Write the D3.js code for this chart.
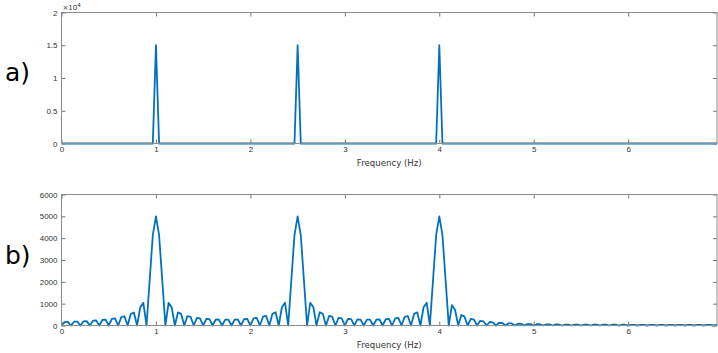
<!DOCTYPE html>
<html>
<head>
<meta charset="utf-8">
<script src="https://cdn.jsdelivr.net/npm/d3@7"></script>
<style>
  body { margin: 0; background: #fff; }
  svg { display: block; font-family: "DejaVu Sans", sans-serif; }
  .tick text { fill: #333; font-size: 8px; }
  .tick line { stroke: #777; }
</style>
</head>
<body>
<svg id="chart" width="718" height="353"></svg>
<script>
// frequency grid step (Hz), both spectra share it
const binStep = 1 / 30;

// a) spectrum: only three non-zero bins
const topPeakBins = [30, 75, 120];
const topPeakValues = [15000, 15000, 15000];
const topBinCount = 210;

// b) spectrum magnitudes, one per bin (read off the plot)
const bottomValues = [
  0, 157, 162, 0, 173, 179, 0, 193, 201, 0, 220, 230, 0, 255, 270, 0, 306, 328, 0, 385, 422,
  0, 524, 597, 0, 832, 1038, 0, 2069, 4135, 5000, 4135, 2070, 0, 1040, 835, 0, 603, 531, 0,
  433, 398, 0, 347, 329, 0, 300, 290, 0, 276, 271, 0, 267, 267, 0, 272, 277, 0, 292, 303,
  0, 331, 351, 0, 402, 436, 0, 534, 606, 0, 837, 1042, 0, 2071, 4135, 5000, 4135, 2071, 0, 1042,
  837, 0, 606, 534, 0, 436, 402, 0, 351, 331, 0, 303, 292, 0, 277, 272, 0, 267, 267, 0,
  271, 276, 0, 290, 300, 0, 329, 347, 0, 398, 433, 0, 531, 603, 0, 835, 1040, 0, 2070, 4135,
  5000, 4135, 2069, 0, 930, 720, 0, 480, 405, 0, 305, 270, 0, 215, 192, 0, 160, 146, 0, 124,
  115, 0, 100, 93, 0, 83, 78, 0, 70, 66, 0, 60, 57, 0, 53, 50, 0, 48, 46, 0,
  44, 43, 0, 42, 41, 0, 40, 39, 0, 38, 37, 0, 36, 36, 0, 35, 35, 0, 34, 34,
  0, 33, 33, 0, 32, 32, 0, 31, 31, 0, 30, 30, 0, 30, 29, 0, 29, 29, 0, 28,
  28, 0, 28, 27, 0, 27, 27, 0, 26, 26
];

const xTicks = [0, 1, 2, 3, 4, 5, 6];
const topYTicks = [0, 0.5, 1, 1.5, 2];       // in units of 10^4
const bottomYTicks = [0, 1000, 2000, 3000, 4000, 5000, 6000];
const xMax = 6.94;

const topSeries = d3.range(topBinCount).map(i => {
  const k = topPeakBins.indexOf(i);
  return { f: i * binStep, v: k < 0 ? 0 : topPeakValues[k] };
});
const bottomSeries = bottomValues.map((v, i) => ({ f: i * binStep, v }));

const svg = d3.select('#chart');
const left = 61.5, right = 717;
const lineColor = '#0072BD';

function panel(cfg) {
  const x = d3.scaleLinear().domain([0, xMax]).range([left, right]);
  const y = d3.scaleLinear().domain(cfg.yDomain).range([cfg.bottom, cfg.top]);
  const g = svg.append('g');

  // curve, clipped to the plot box
  const clipId = 'clip' + cfg.name;
  svg.append('clipPath').attr('id', clipId)
    .append('rect')
    .attr('x', left).attr('y', cfg.top - 2)
    .attr('width', right - left).attr('height', cfg.bottom - cfg.top + 4);

  g.append('path')
    .datum(cfg.data)
    .attr('clip-path', `url(#${clipId})`)
    .attr('fill', 'none')
    .attr('stroke', lineColor)
    .attr('stroke-width', 1.8)
    .attr('stroke-linejoin', 'round')
    .attr('d', d3.line().x(d => x(d.f)).y(d => y(d.v * cfg.scale)));

  // X axis (inward ticks)
  g.append('g')
    .attr('transform', `translate(0,${cfg.bottom})`)
    .call(d3.axisBottom(x).tickValues(xTicks).tickFormat(d3.format('d'))
      .tickSizeInner(-4).tickSizeOuter(0).tickPadding(3))
    .call(a => a.select('.domain').remove());

  g.append('g')
    .attr('transform', `translate(0,${cfg.top})`)
    .call(d3.axisTop(x).tickValues(xTicks).tickFormat('')
      .tickSizeInner(-4).tickSizeOuter(0))
    .call(a => a.select('.domain').remove());

  // Y axis
  g.append('g')
    .attr('transform', `translate(${left},0)`)
    .call(d3.axisLeft(y).tickValues(cfg.yTicks).tickFormat(d3.format('~g'))
      .tickSizeInner(-4).tickSizeOuter(0).tickPadding(4))
    .call(a => a.select('.domain').remove());

  g.append('g')
    .attr('transform', `translate(${right},0)`)
    .call(d3.axisRight(y).tickValues(cfg.yTicks).tickFormat('')
      .tickSizeInner(-4).tickSizeOuter(0))
    .call(a => a.select('.domain').remove());

  g.append('rect')
    .attr('x', left).attr('y', cfg.top)
    .attr('width', right - left).attr('height', cfg.bottom - cfg.top)
    .attr('fill', 'none').attr('stroke', '#8c8c8c').attr('stroke-width', 1);

  g.append('text')
    .attr('x', (left + right) / 2).attr('y', cfg.bottom + 22)
    .attr('text-anchor', 'middle')
    .attr('font-size', 8.6).attr('fill', '#333')
    .text('Frequency (Hz)');

  svg.append('text')
    .attr('x', 5).attr('y', cfg.labelY)
    .attr('font-size', 25).attr('fill', '#000')
    .text(cfg.name + ')');

  return g;
}

const topPanel = panel({
  name: 'a', data: topSeries, yDomain: [0, 2], yTicks: topYTicks, scale: 1e-4,
  top: 12.5, bottom: 143.5, labelY: 81
});

// exponent label
const ex = topPanel.append('text').attr('x', left + 1).attr('y', 9.5)
  .attr('font-size', 7).attr('fill', '#333');
ex.append('tspan').text('\u00d710');
ex.append('tspan').attr('dy', -3).attr('font-size', 5.5).text('4');

panel({
  name: 'b', data: bottomSeries, yDomain: [0, 6000], yTicks: bottomYTicks, scale: 1,
  top: 194.5, bottom: 325.5, labelY: 264
});
</script>
</body>
</html>
